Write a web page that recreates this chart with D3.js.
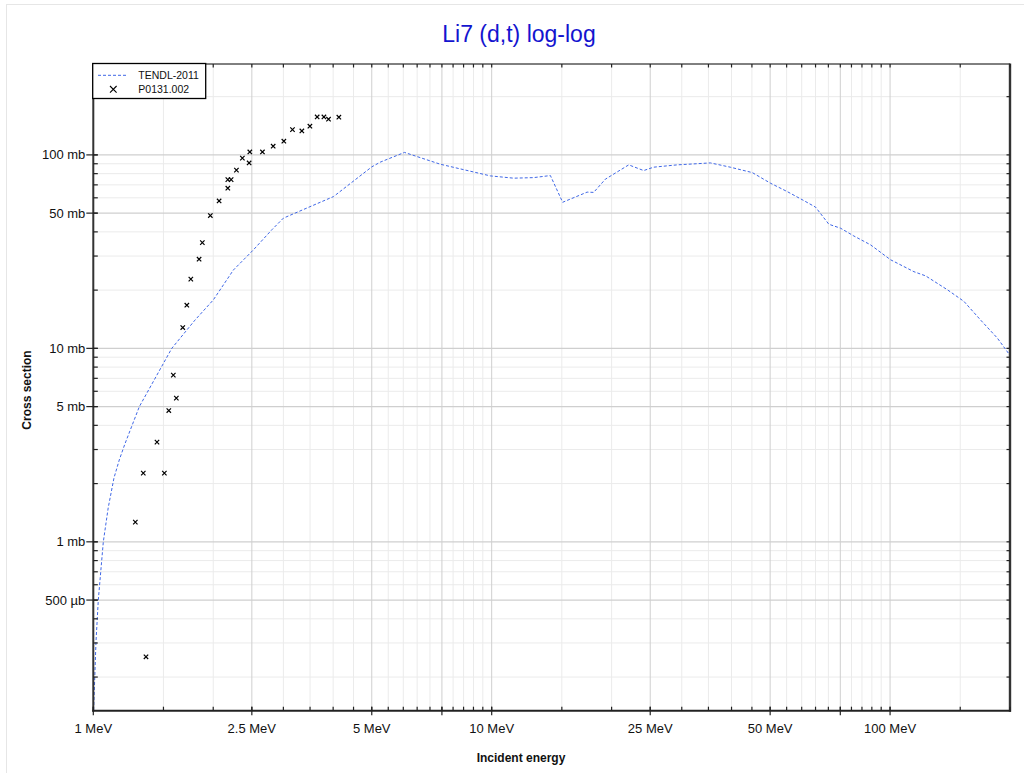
<!DOCTYPE html>
<html>
<head>
<meta charset="utf-8">
<script src="https://cdn.jsdelivr.net/npm/d3@7"></script>
<style>
  html, body { margin: 0; padding: 0; background: #fff; }
  svg { display: block; font-family: "Liberation Sans", Arial, sans-serif; }
</style>
</head>
<body>
<svg id="chart" width="1024" height="773"></svg>
<script>
// ---------- data ----------
const chartTitle = "Li7 (d,t) log-log";
const xTitle = "Incident energy";
const yTitle = "Cross section";

// TENDL-2011 evaluated curve (MeV, mb)
const tendlE = [1.0, 1.0157, 1.0293, 1.0596, 1.09, 1.127, 1.162, 1.2, 1.305, 1.574, 1.8, 2.001, 2.247, 2.523, 2.806, 3.0, 4.009, 5.0, 5.25, 6.04, 7.43, 9.92, 11.35, 12.74, 14.04, 15.07, 17.36, 18.03, 19.29, 22.08, 24.07, 25.5, 29.2, 35.4, 39.7, 45.1, 50.1, 55.2, 60.7, 65.0, 70.2, 75.1, 81.1, 89.3, 100.3, 114.8, 122.8, 139.2, 153.2, 168.8, 185.9, 200.0];
const tendlXS = [0.12, 0.305, 0.50, 1.0, 1.5, 2.14, 2.65, 3.2, 5.0, 10.0, 14.0, 17.8, 25.4, 32.3, 41.0, 47.1, 60.9, 86.7, 91.7, 103, 89.5, 77.9, 75.8, 76.3, 78.2, 56.9, 64.2, 64.0, 74.9, 88.8, 83.0, 86.4, 88.8, 90.9, 86.4, 81.0, 71.4, 64.6, 58.1, 53.7, 43.8, 41.8, 38.1, 34.3, 28.7, 24.9, 23.7, 20.1, 17.5, 14.0, 11.3, 9.2];

// P0131.002 experimental points (MeV, mb)
const expE = [1.275, 1.335, 1.356, 1.445, 1.508, 1.547, 1.588, 1.616, 1.677, 1.717, 1.757, 1.843, 1.878, 1.967, 2.069, 2.176, 2.176, 2.218, 2.287, 2.367, 2.461, 2.471, 2.658, 2.828, 3.008, 3.162, 3.338, 3.497, 3.647, 3.792, 3.894, 4.134];
const expXS = [1.264, 2.265, 0.2544, 3.276, 2.265, 4.77, 7.27, 5.53, 12.81, 16.72, 22.79, 28.9, 35.2, 48.6, 57.8, 67.3, 74.5, 74.5, 83.4, 96.2, 90.9, 103.6, 103.6, 110.9, 117.7, 135.1, 133.0, 140.7, 157.1, 157.1, 152.9, 156.6];

const seriesNames = ["TENDL-2011", "P0131.002"];

// axis ticks
const xMajorTicks = [1, 2.5, 5, 7.5, 10, 25, 50, 75, 100];
const xMajorLabels = ["1 MeV", "2.5 MeV", "5 MeV", "", "10 MeV", "25 MeV", "50 MeV", "", "100 MeV"];
const yMajorTicks = [0.5, 1, 5, 10, 50, 100];
const yMajorLabels = ["500 µb", "1 mb", "5 mb", "10 mb", "50 mb", "100 mb"];

// ---------- layout ----------
const L = 93.3, R = 1010, T = 64, B = 710.7;
const svg = d3.select("#chart");
const x = d3.scaleLog().domain([1, 200]).range([L, R]);
const y = d3.scaleLog().domain([0.134, 295]).range([B, T]);

// minor ticks
const xMinor = [];
[1, 10, 100].forEach(dec => { for (let m = 1; m < 10; m += 0.5) { const v = m * dec; if (v >= 1 && v <= 200) xMinor.push(v); } });
const yMinor = [];
[0.1, 1, 10, 100].forEach(dec => { for (let m = 1; m <= 9; m++) { const v = m * dec; if (v >= 0.134 && v <= 295) yMinor.push(v); } });

// outer panel border
svg.append("rect").attr("x", 6.5).attr("y", 4.5).attr("width", 1040).attr("height", 800)
  .attr("fill", "#fff").attr("stroke", "#e6e6e6");

// grid
const grid = svg.append("g");
grid.selectAll(".vminor").data(xMinor.filter(v => !xMajorTicks.includes(v))).join("line")
  .attr("x1", d => x(d)).attr("x2", d => x(d)).attr("y1", T).attr("y2", B)
  .attr("stroke", "#ebebeb").attr("stroke-width", 1);
grid.selectAll(".hminor").data(yMinor.filter(v => !yMajorTicks.includes(v))).join("line")
  .attr("y1", d => y(d)).attr("y2", d => y(d)).attr("x1", L).attr("x2", R)
  .attr("stroke", "#ebebeb").attr("stroke-width", 1);
grid.selectAll(".vmajor").data(xMajorTicks).join("line")
  .attr("x1", d => x(d)).attr("x2", d => x(d)).attr("y1", T).attr("y2", B)
  .attr("stroke", "#cfcfcf").attr("stroke-width", 1);
grid.selectAll(".hmajor").data(yMajorTicks).join("line")
  .attr("y1", d => y(d)).attr("y2", d => y(d)).attr("x1", L).attr("x2", R)
  .attr("stroke", "#cfcfcf").attr("stroke-width", 1.3);

// clip
svg.append("clipPath").attr("id", "plotclip").append("rect")
  .attr("x", L).attr("y", T).attr("width", R - L).attr("height", B - T);

// curve
const tendl = tendlE.map((e, i) => [e, tendlXS[i]]);
svg.append("path").datum(tendl)
  .attr("clip-path", "url(#plotclip)")
  .attr("fill", "none").attr("stroke", "#3f67e6").attr("stroke-width", 1)
  .attr("stroke-dasharray", "3,2")
  .attr("d", d3.line().x(d => x(d[0])).y(d => y(d[1])));

// scatter
const expPts = expE.map((e, i) => [e, expXS[i]]);
const s = 2.2;
svg.append("g").selectAll("path").data(expPts).join("path")
  .attr("transform", d => `translate(${x(d[0])},${y(d[1])})`)
  .attr("d", `M${-s},${-s}L${s},${s}M${-s},${s}L${s},${-s}`)
  .attr("stroke", "#000").attr("stroke-width", 1.2).attr("fill", "none");

// frame
svg.append("line").attr("x1", L).attr("x2", R).attr("y1", T).attr("y2", T).attr("stroke", "#000").attr("stroke-width", 1);
svg.append("line").attr("x1", R).attr("x2", R).attr("y1", T - 0.5).attr("y2", B + 1).attr("stroke", "#333").attr("stroke-width", 2.4);
svg.append("line").attr("x1", L).attr("x2", L).attr("y1", T).attr("y2", B + 1).attr("stroke", "#333").attr("stroke-width", 2);
svg.append("line").attr("x1", L - 1).attr("x2", R + 1).attr("y1", B).attr("y2", B).attr("stroke", "#222").attr("stroke-width", 2);

// ticks
const tk = svg.append("g").attr("stroke", "#222").attr("stroke-width", 1.2);
tk.selectAll(".bmin").data(xMinor).join("line")
  .attr("x1", d => x(d)).attr("x2", d => x(d)).attr("y1", B - 4).attr("y2", B);
tk.selectAll(".bmaj").data(xMajorTicks).join("line")
  .attr("x1", d => x(d)).attr("x2", d => x(d)).attr("y1", B - 4).attr("y2", B + 4.5);
tk.selectAll(".tmin").data(xMinor).join("line")
  .attr("x1", d => x(d)).attr("x2", d => x(d)).attr("y1", T).attr("y2", T + 3.5);
tk.selectAll(".lmin").data(yMinor).join("line")
  .attr("y1", d => y(d)).attr("y2", d => y(d)).attr("x1", L).attr("x2", L + 4.5);
tk.selectAll(".lmaj").data(yMajorTicks).join("line")
  .attr("y1", d => y(d)).attr("y2", d => y(d)).attr("x1", L - 7).attr("x2", L + 4.5);
tk.selectAll(".rmin").data(yMinor).join("line")
  .attr("y1", d => y(d)).attr("y2", d => y(d)).attr("x1", R - 3.5).attr("x2", R);

// tick labels
svg.append("g").selectAll("text").data(xMajorTicks).join("text")
  .attr("x", d => x(d)).attr("y", B + 22.5)
  .attr("text-anchor", "middle").attr("font-size", 13).attr("fill", "#111")
  .text((d, i) => xMajorLabels[i]);
svg.append("g").selectAll("text").data(yMajorTicks).join("text")
  .attr("x", L - 8).attr("y", d => y(d) + 4.5)
  .attr("text-anchor", "end").attr("font-size", 13).attr("fill", "#111")
  .text((d, i) => yMajorLabels[i]);

// titles
svg.append("text").attr("x", 519).attr("y", 42).attr("text-anchor", "middle")
  .attr("font-size", 23).attr("fill", "#1414cf").text(chartTitle);
svg.append("text").attr("x", 521).attr("y", 762).attr("text-anchor", "middle")
  .attr("font-size", 12).attr("font-weight", "bold").attr("fill", "#111").text(xTitle);
svg.append("text").attr("transform", "translate(31,390) rotate(-90)").attr("text-anchor", "middle")
  .attr("font-size", 12).attr("font-weight", "bold").attr("fill", "#111").text(yTitle);

// legend
const lg = svg.append("g");
lg.append("rect").attr("x", 92.7).attr("y", 63.5).attr("width", 113).attr("height", 35)
  .attr("fill", "#fff").attr("stroke", "#000").attr("stroke-width", 1.3);
lg.append("line").attr("x1", 98).attr("x2", 126).attr("y1", 75.3).attr("y2", 75.3)
  .attr("stroke", "#3f67e6").attr("stroke-width", 1).attr("stroke-dasharray", "3,2");
lg.append("path").attr("transform", "translate(113.3,89.3)")
  .attr("d", "M-3.3,-3.3L3.3,3.3M-3.3,3.3L3.3,-3.3").attr("stroke", "#000").attr("stroke-width", 1.1);
lg.selectAll("text").data(seriesNames).join("text")
  .attr("x", 138.3).attr("y", (d, i) => 79.3 + i * 13.5)
  .attr("font-size", 10.5).attr("fill", "#111").text(d => d);
</script>
</body>
</html>
